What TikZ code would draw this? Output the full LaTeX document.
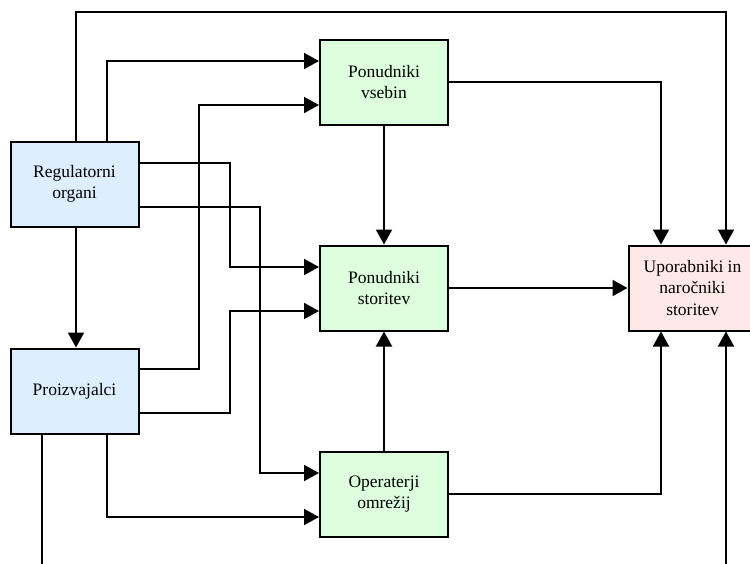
\documentclass[tikz,border=0pt]{standalone}
\usepackage{fontspec}
\setmainfont{Liberation Serif}
\usetikzlibrary{arrows.meta}
\definecolor{boxblue}{RGB}{221,238,255}
\definecolor{boxgreen}{RGB}{221,255,221}
\definecolor{boxpink}{RGB}{255,232,232}
\tikzset{
  box/.style={draw=black, line width=2pt, minimum width=128pt, minimum height=85pt,
    align=center, inner sep=0pt, font=\fontsize{17.5}{21.5}\selectfont},
  bluebox/.style={box, fill=boxblue},
  greenbox/.style={box, fill=boxgreen},
  pinkbox/.style={box, fill=boxpink},
  conn/.style={line width=2pt},
  arr/.style={conn, -{Triangle[length=15pt,width=16pt]}}
}
\begin{document}
\begin{tikzpicture}[x=1pt,y=-1pt]
\useasboundingbox (0,0) rectangle (750,563);
\fill[white] (0,0) rectangle (750,563);

\node[bluebox] (reg) at (74.5,184) {Regulatorni\\organi};
\node[bluebox] (pro) at (74.5,391) {Proizvajalci};
\node[greenbox] (pv) at (384,82) {Ponudniki\\vsebin};
\node[greenbox] (ps) at (384,288) {Ponudniki\\storitev};
\node[greenbox] (om) at (384,494) {Operaterji\\omrežij};
\node[pinkbox] (up) at (692.5,288) {Uporabniki in\\naročniki\\storitev};

\coordinate (topline) at (0,12);
\coordinate (endA) at (42,566);
\coordinate (endB) at (726,566);

% regulatorni -> uporabniki (top loop)
\draw[arr] ([xshift=1.5pt]reg.north) -- ([xshift=1.5pt]reg.north |- topline) -| ([xshift=33.5pt]up.north);
% regulatorni -> ponudniki vsebin
\draw[arr] ([xshift=32.5pt]reg.north) |- ([yshift=21pt]pv.west);
% proizvajalci -> ponudniki vsebin
\draw[arr] ([yshift=22pt]pro.east) -- ++(59,0) |- ([yshift=-23pt]pv.west);
% regulatorni -> ponudniki storitev
\draw[arr] ([yshift=21pt]reg.east) -- ++(90,0) |- ([yshift=21pt]ps.west);
% regulatorni -> operaterji
\draw[arr] ([yshift=-23pt]reg.east) -- ++(120,0) |- ([yshift=21pt]om.west);
% proizvajalci -> ponudniki storitev
\draw[arr] ([yshift=-22pt]pro.east) -- ++(90,0) |- ([yshift=-23pt]ps.west);
% proizvajalci -> operaterji
\draw[arr] ([xshift=32.5pt]pro.south) |- ([yshift=-23pt]om.west);
% proizvajalci -> down (free end)
\draw[conn] ([xshift=-32.5pt]pro.south) -- (endA);
% regulatorni -> proizvajalci
\draw[arr] ([xshift=1.5pt]reg.south) -- ([xshift=1.5pt]pro.north);
% ponudniki vsebin -> uporabniki
\draw[arr] (pv.east) -| ([xshift=-31.5pt]up.north);
% ponudniki vsebin -> ponudniki storitev
\draw[arr] (pv.south) -- (ps.north);
% ponudniki storitev -> uporabniki
\draw[arr] (ps.east) -- (up.west);
% operaterji -> ponudniki storitev
\draw[arr] (om.north) -- (ps.south);
% operaterji -> uporabniki
\draw[arr] (om.east) -| ([xshift=-31.5pt]up.south);
% from below -> uporabniki
\draw[arr] (endB) -- ([xshift=33.5pt]up.south);
\end{tikzpicture}
\end{document}
